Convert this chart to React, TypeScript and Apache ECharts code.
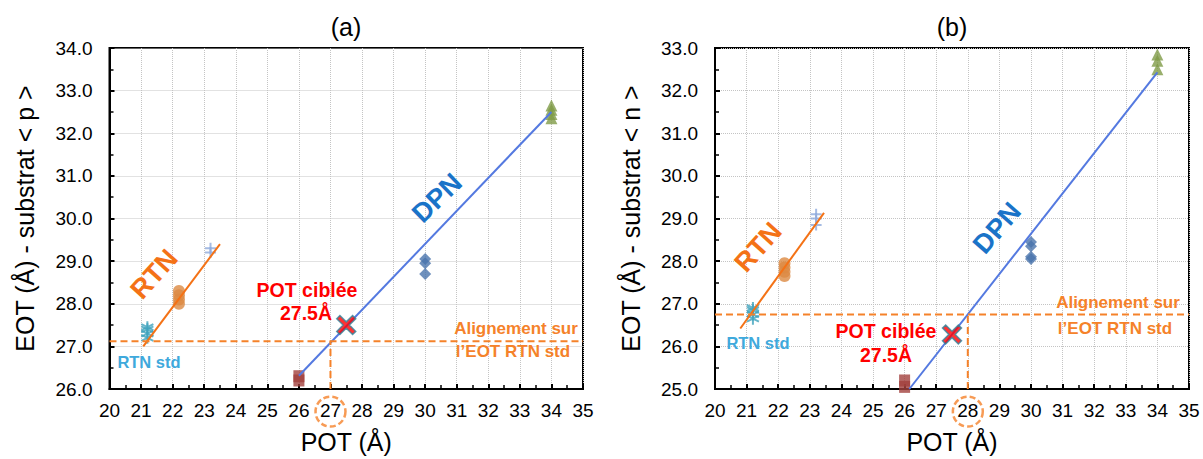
import React, { useEffect, useRef } from "react";
import * as echarts from "echarts";

// ---------- data (a) : substrat < p > ----------
const xTicksMin = 20;
const xTicksMax = 35;
const aYMin = 26;
const aYMax = 34;
const aRtnStd = [27.2, 27.3, 27.4, 27.45]; // at POT 21.2
const aRtn22 = [28.0, 28.1, 28.2, 28.3]; // at POT 22.2
const aRtn23 = [29.2, 29.3]; // at POT 23.2
const aDpn26 = [26.2, 26.3]; // at POT 26
const aDpn30 = [29.05, 28.95, 28.7]; // at POT 30
const aDpn34 = [32.35, 32.45, 32.55, 32.65]; // at POT 34
const aTarget = [27.5, 27.5];
const aRtnFit = [[21.07, 27.0], [23.5, 29.4]];
const aDpnFit = [[26, 26.31], [34, 32.5]];
const aAlignEot = 27.12;
const aAlignPot = 27;

// ---------- data (b) : substrat < n > ----------
const bYMin = 25;
const bYMax = 33;
const bRtnStd = [26.65, 26.75, 26.85, 26.9];
const bRtn22 = [27.65, 27.75, 27.85, 27.95];
const bRtn23 = [28.85, 29.0, 29.1];
const bDpn26 = [25.05, 25.2];
const bDpn30 = [28.05, 28.1, 28.35, 28.45];
const bDpn34 = [32.5, 32.7, 32.85];
const bTarget = [27.5, 26.28];
const bRtnFit = [[20.8, 26.42], [23.45, 29.13]];
const bDpnFit = [[26.15, 25.0], [34, 32.43]];
const bAlignEot = 26.75;
const bAlignPot = 28;

const potStd = 21.2;
const pot22 = 22.2;
const pot23 = 23.2;
const pot26 = 26;
const pot30 = 30;
const pot34 = 34;

const FONT = '"Liberation Sans", Arial, sans-serif';
const ORANGE = "#f47216";
const ORANGE_D = "#f5822a";
const DPN_LINE = "#5479e0";

const ASTER = "path://M5,0L5,10M0.7,2.5L9.3,7.5M0.7,7.5L9.3,2.5";
const PLUS = "path://M5,0L5,10M0,5L10,5";
const XMARK =
  "path://M0,2L2,0L6,4L10,0L12,2L8,6L12,10L10,12L6,8L2,12L0,10L4,6Z";

function makeX(gi: number) {
  return {
    type: "value",
    gridIndex: gi,
    min: xTicksMin,
    max: xTicksMax,
    interval: 1,
    name: "POT (Å)",
    nameLocation: "middle",
    nameGap: 40,
    nameTextStyle: { fontSize: 25, color: "#000", fontFamily: FONT },
    axisLine: { show: true, onZero: false, lineStyle: { color: "#000", width: 2 } },
    axisTick: { show: true, inside: true, length: 5, lineStyle: { color: "#000", width: 2 } },
    minorTick: { show: true, splitNumber: 2, length: 4, lineStyle: { color: "#000", width: 1.5 } },
    axisLabel: { fontSize: 19, color: "#000", fontFamily: FONT, margin: 12 },
    splitLine: { show: true, lineStyle: { color: "#c4c4c4", type: "dotted", width: 1 } },
  };
}

function makeY(gi: number, min: number, max: number, name: string) {
  return {
    type: "value",
    gridIndex: gi,
    min,
    max,
    interval: 1,
    name,
    nameLocation: "middle",
    nameGap: 72,
    nameTextStyle: { fontSize: 25, color: "#000", fontFamily: FONT },
    axisLine: { show: true, onZero: false, lineStyle: { color: "#000", width: 2 } },
    axisTick: { show: true, inside: true, length: 5, lineStyle: { color: "#000", width: 2 } },
    minorTick: { show: true, splitNumber: 2, length: 4, lineStyle: { color: "#000", width: 1.5 } },
    axisLabel: {
      fontSize: 19,
      color: "#000",
      fontFamily: FONT,
      margin: 17,
      formatter: (v: number) => v.toFixed(1),
    },
    splitLine: { show: true, lineStyle: { color: "#c4c4c4", type: "dotted", width: 1 } },
  };
}

function pts(x: number, ys: number[]) {
  return ys.map((y) => [x, y]);
}

function seriesFor(
  gi: number,
  d: {
    std: number[];
    r22: number[];
    r23: number[];
    d26: number[];
    d30: number[];
    d34: number[];
    target: number[];
    rtnFit: number[][];
    dpnFit: number[][];
    alignEot: number;
    alignPot: number;
    yMin: number;
  }
) {
  const common = { xAxisIndex: gi, yAxisIndex: gi, silent: true };
  return [
    {
      ...common,
      type: "scatter",
      symbol: ASTER,
      symbolSize: 12,
      z: 2,
      itemStyle: { color: "#3fa3bd", borderColor: "#3fa3bd", borderWidth: 2 },
      data: pts(potStd, d.std),
    },
    {
      ...common,
      type: "scatter",
      symbol: "circle",
      symbolSize: 12,
      z: 2,
      itemStyle: { color: "#dc8a42" },
      data: pts(pot22, d.r22),
    },
    {
      ...common,
      type: "scatter",
      symbol: PLUS,
      symbolSize: 11,
      z: 2,
      itemStyle: { color: "#8faadc", borderColor: "#8faadc", borderWidth: 2 },
      data: pts(pot23, d.r23),
    },
    {
      ...common,
      type: "scatter",
      symbol: "rect",
      symbolSize: [11, 12],
      z: 2,
      itemStyle: { color: "#a3413d" },
      data: pts(pot26, d.d26),
    },
    {
      ...common,
      type: "scatter",
      symbol: "diamond",
      symbolSize: 12,
      z: 2,
      itemStyle: { color: "#4a74ac" },
      data: pts(pot30, d.d30),
    },
    {
      ...common,
      type: "scatter",
      symbol: "triangle",
      symbolSize: 12,
      z: 2,
      itemStyle: { color: "#7f9b47" },
      data: pts(pot34, d.d34),
    },
    {
      ...common,
      type: "line",
      z: 3,
      showSymbol: false,
      symbol: "none",
      lineStyle: { color: ORANGE, width: 2 },
      data: d.rtnFit,
    },
    {
      ...common,
      type: "line",
      z: 3,
      showSymbol: false,
      symbol: "none",
      lineStyle: { color: DPN_LINE, width: 2 },
      data: d.dpnFit,
    },
    {
      ...common,
      type: "line",
      z: 3,
      showSymbol: false,
      symbol: "none",
      lineStyle: { color: ORANGE_D, width: 2, type: [7, 4] },
      data: [
        [xTicksMin, d.alignEot],
        [xTicksMax, d.alignEot],
      ],
    },
    {
      ...common,
      type: "line",
      z: 3,
      showSymbol: false,
      symbol: "none",
      lineStyle: { color: ORANGE_D, width: 2, type: [7, 4] },
      data: [
        [d.alignPot, d.yMin],
        [d.alignPot, d.alignEot],
      ],
    },
    {
      ...common,
      type: "scatter",
      symbol: XMARK,
      symbolSize: 19,
      z: 5,
      itemStyle: { color: "#ff0000", borderColor: "#31859c", borderWidth: 1.5 },
      data: [d.target],
    },
    {
      ...common,
      type: "scatter",
      symbol: "circle",
      symbolSize: 30,
      clip: false,
      z: 5,
      itemStyle: {
        color: "rgba(0,0,0,0)",
        borderColor: ORANGE_D,
        borderWidth: 2.5,
        borderType: [6, 3],
      },
      data: [[d.alignPot, d.yMin - 0.53]],
    },
  ];
}

function txt(
  text: string,
  x: number,
  y: number,
  color: string,
  size: number,
  bold = true,
  rotationDeg = 0
) {
  return {
    type: "text",
    x,
    y,
    rotation: (rotationDeg * Math.PI) / 180,
    z: 10,
    silent: true,
    style: {
      text,
      fill: color,
      font: `${bold ? "bold " : ""}${size}px ${FONT}`,
      textAlign: "center",
      textVerticalAlign: "middle",
    },
  };
}

export default function App() {
  const ref = useRef<HTMLDivElement>(null);
  useEffect(() => {
    document.body.style.margin = "0";
    if (!ref.current) return;
    const chart = echarts.init(ref.current, undefined, { renderer: "svg" });
    const option: any = {
      animation: false,
      backgroundColor: "#fff",
      textStyle: { fontFamily: FONT },
      grid: [
        { left: 109.5, top: 48, width: 473.5, height: 341, show: true, borderColor: "#000", borderWidth: 2 },
        { left: 715, top: 48, width: 474, height: 342, show: true, borderColor: "#000", borderWidth: 2 },
      ],
      xAxis: [makeX(0), makeX(1)],
      yAxis: [
        makeY(0, aYMin, aYMax, "EOT (Å) - substrat < p >"),
        makeY(1, bYMin, bYMax, "EOT (Å) - substrat < n >"),
      ],
      series: [
        ...seriesFor(0, {
          std: aRtnStd,
          r22: aRtn22,
          r23: aRtn23,
          d26: aDpn26,
          d30: aDpn30,
          d34: aDpn34,
          target: aTarget,
          rtnFit: aRtnFit,
          dpnFit: aDpnFit,
          alignEot: aAlignEot,
          alignPot: aAlignPot,
          yMin: aYMin,
        }),
        ...seriesFor(1, {
          std: bRtnStd,
          r22: bRtn22,
          r23: bRtn23,
          d26: bDpn26,
          d30: bDpn30,
          d34: bDpn34,
          target: bTarget,
          rtnFit: bRtnFit,
          dpnFit: bDpnFit,
          alignEot: bAlignEot,
          alignPot: bAlignPot,
          yMin: bYMin,
        }),
      ],
      graphic: [
        txt("(a)", 346, 27, "#000", 25, false),
        txt("(b)", 952, 27, "#000", 25, false),
        // (a) annotations
        txt("RTN", 154, 274, ORANGE, 27, true, 48),
        txt("RTN std", 149, 362, "#3fa9dc", 16.5),
        txt("POT ciblée", 307, 290, "#ff0000", 19.5),
        txt("27.5Å", 306, 313, "#ff0000", 19.5),
        txt("DPN", 437, 198, "#1a73c8", 27, true, 44),
        txt("Alignement sur", 516, 328, ORANGE_D, 17),
        txt("l’EOT RTN std", 513, 351, ORANGE_D, 17),
        // (b) annotations
        txt("RTN", 758, 247, ORANGE, 27, true, 48),
        txt("RTN std", 758, 343, "#3fa9dc", 16.5),
        txt("POT ciblée", 886, 331, "#ff0000", 19.5),
        txt("27.5Å", 886, 355, "#ff0000", 19.5),
        txt("DPN", 997, 228, "#1a73c8", 27, true, 49),
        txt("Alignement sur", 1118, 302, ORANGE_D, 17),
        txt("l’EOT RTN std", 1115, 328, ORANGE_D, 17),
      ],
    };
    chart.setOption(option);
    return () => chart.dispose();
  }, []);
  return <div ref={ref} style={{ width: 1203, height: 459 }} />;
}
